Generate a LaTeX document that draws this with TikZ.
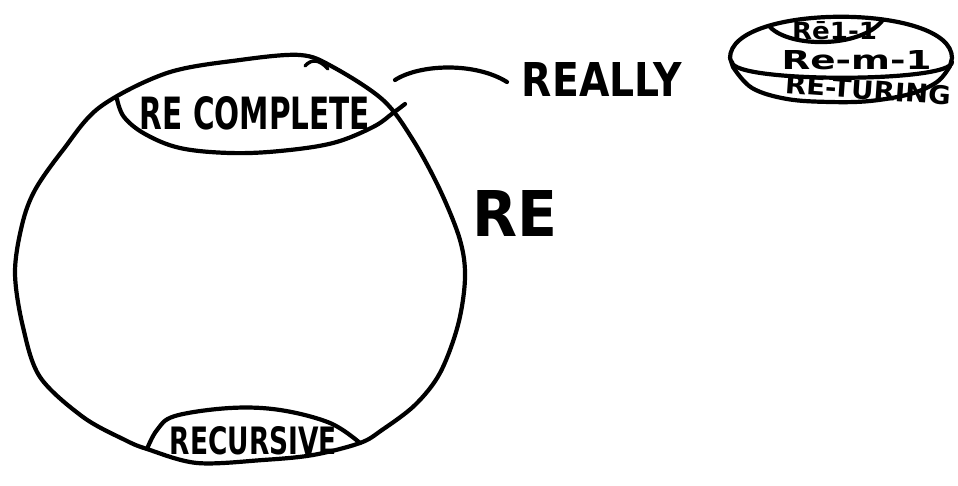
\documentclass[tikz,border=0pt]{standalone}
\usepackage{fontspec}
\usepackage{graphicx}
\setmainfont{DejaVu Sans}
% a label squeezed into a box of given width and height (in pt)
\newcommand\fitlabel[3]{\resizebox{#1pt}{#2pt}{\bfseries #3}}
\tikzset{
  ink/.style={line width=4.2pt, line cap=round, line join=round},
  thinink/.style={line width=3.4pt, line cap=round, line join=round},
  lbl/.style={inner sep=0pt, anchor=center}
}
\begin{document}
\begin{tikzpicture}[x=1pt,y=-1pt]
\useasboundingbox (0,0) rectangle (958,486);

% ---- the RE set: a big closed blob ----
\draw[ink] plot[smooth cycle, tension=0.55] coordinates {
  (100,107) (167,73) (240,60) (300,55) (333,67) (383,100) (413,140)
  (440,190) (460,240) (465,278) (458,325) (440,373) (415,405) (382,430)
  (360,443) (313,455) (263,460) (197,463) (147,449) (125,440)
  (83,417) (40,377) (23,327) (15,273) (22,225) (35,190) (63,150)};
% small stroke on the top of the blob
\draw[thinink] (305,66) .. controls (312,58) and (320,60) .. (328,69);

% ---- RE complete region at the top ----
\draw[ink] plot[smooth, tension=0.6] coordinates {
  (117,99) (124,117) (145,134) (180,148) (230,153) (280,151)
  (333,143) (373,127) (393,113) (405,104)};
\node[lbl] (recomplete) at (255,113.5) {\fitlabel{230}{33}{RE COMPLETE}};

% ---- recursive region at the bottom ----
\draw[ink] plot[smooth, tension=0.6] coordinates {
  (147,449) (157,430) (175,416) (230,408) (280,410) (330,423) (360,443)};
\node[lbl] (recursive) at (253.5,441) {\fitlabel{167}{28}{RECURSIVE}};

% ---- outside labels ----
\node[lbl] (re) at (514.5,213) {\fitlabel{85}{46}{RE}};
\node[lbl] (really) at (602,80) {\fitlabel{160}{34}{REALLY}};
\coordinate (reallytip) at (395,80);
\coordinate (reallyend) at (507,82);
\draw[ink] (reallytip) .. controls (420,64) and (475,62) .. (reallyend);

% ---- stacked disc of reducibility notions ----
\coordinate (dL) at (730,58);
\coordinate (dR) at (952,58);
\draw[ink] (dL) .. controls (730,3) and (952,3) .. (dR) -- (950,66);
\draw[ink] plot[smooth, tension=0.6] coordinates {
  (950,66) (937,82) (910,94) (870,101) (830,102) (787,99) (752,88) (733,67)}
  -- (dL);
\draw[ink] (732,62) .. controls (732,83) and (952,83) .. (952,62);
\draw[ink] (770,27) .. controls (790,48) and (860,48) .. (882,21);
\node[lbl] (one) at (834.5,31) {\fitlabel{85}{18}{R\=e1-1}};
\node[lbl] (many) at (856.5,60) {\fitlabel{150}{19}{Re-m-1}};
\node[lbl, rotate=-4] (turing) at (868,90) {\fitlabel{166}{19}{RE-TURING}};
\end{tikzpicture}
\end{document}
